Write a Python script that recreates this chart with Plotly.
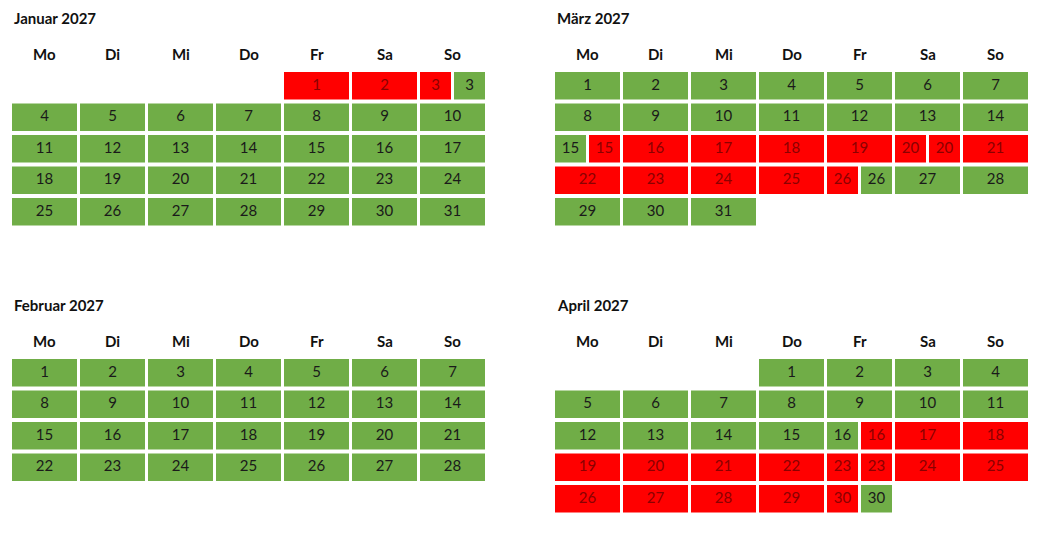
import calendar
import plotly.graph_objects as go

YEAR = 2027
month_numbers = [1, 2, 3, 4]
month_titles = ["Januar 2027", "Februar 2027", "März 2027", "April 2027"]
weekday_labels = ["Mo", "Di", "Mi", "Do", "Fr", "Sa", "So"]

# fully red days per month
red_jan = [1, 2]
red_feb = []
red_mar = [16, 17, 18, 19, 21, 22, 23, 24, 25]
red_apr = [17, 18, 19, 20, 21, 22, 24, 25, 26, 27, 28, 29]

# split days: (day, left half status, right half status)
half_jan = [(3, "r", "g")]
half_feb = []
half_mar = [(15, "g", "r"), (20, "r", "r"), (26, "r", "g")]
half_apr = [(16, "g", "r"), (23, "r", "r"), (30, "r", "g")]

red_lists = [red_jan, red_feb, red_mar, red_apr]
half_lists = [half_jan, half_feb, half_mar, half_apr]

GREEN = "#70AD47"
RED = "#FF0000"
TXT = {"g": "#1a1a1a", "r": "#8B0000"}
FILL = {"g": GREEN, "r": RED}
FONT = "Lato"

W, H = 1040, 535
OFF = 8.0  # page body margin
PITCH_X = 68.0
PITCH_Y = 31.5
NROWS = 5
CELL_W = 65.0 / PITCH_X
CELL_H = 27.5 / PITCH_Y
GAP = 3.0 / PITCH_X
HALF_W = (CELL_W - GAP) / 2

# panel placement (pixels in the page): left edge of x range, top edge of y range
panels = {1: (10.5, 70.0), 3: (553.5, 70.0), 2: (10.5, 357.0), 4: (553.5, 357.0)}


def row_to_domain(r):
    # y range is [NROWS-0.5 (bottom), -0.5 (top)]
    return 1 - (r + 0.5) / NROWS


fig = go.Figure()
annotations = []
layout_axes = {}

for k, (m, title, reds, halves) in enumerate(zip(month_numbers, month_titles, red_lists, half_lists)):
    idx = k + 1
    xa = "x" if idx == 1 else f"x{idx}"
    ya = "y" if idx == 1 else f"y{idx}"
    left_px, top_px = panels[m]
    left_px -= OFF
    top_px -= OFF
    x0 = left_px / W
    x1 = (left_px + 7 * PITCH_X) / W
    y1 = 1 - top_px / H
    y0 = 1 - (top_px + NROWS * PITCH_Y) / H
    layout_axes["xaxis" if idx == 1 else f"xaxis{idx}"] = dict(
        domain=[x0, x1], range=[-0.5, 6.5], visible=False, fixedrange=True,
        anchor=ya)
    layout_axes["yaxis" if idx == 1 else f"yaxis{idx}"] = dict(
        domain=[y0, y1], range=[NROWS - 0.5, -0.5], visible=False, fixedrange=True,
        anchor=xa)

    first_wd, ndays = calendar.monthrange(YEAR, m)
    half_map = {d: (a, b) for d, a, b in halves}

    bars = {"g": dict(y=[], base=[], x=[]), "r": dict(y=[], base=[], x=[])}
    texts = {"g": dict(x=[], y=[], t=[]), "r": dict(x=[], y=[], t=[])}
    for d in range(1, ndays + 1):
        pos = first_wd + d - 1
        col = pos % 7
        row = pos // 7
        if d in half_map:
            for j, st in enumerate(half_map[d]):
                b = col - CELL_W / 2 + j * (HALF_W + GAP)
                bars[st]["y"].append(row)
                bars[st]["base"].append(b)
                bars[st]["x"].append(HALF_W)
                texts[st]["x"].append(b + HALF_W / 2)
                texts[st]["y"].append(row)
                texts[st]["t"].append(str(d))
        else:
            st = "r" if d in reds else "g"
            bars[st]["y"].append(row)
            bars[st]["base"].append(col - CELL_W / 2)
            bars[st]["x"].append(CELL_W)
            texts[st]["x"].append(col)
            texts[st]["y"].append(row)
            texts[st]["t"].append(str(d))

    for st in ("g", "r"):
        if bars[st]["y"]:
            fig.add_trace(go.Bar(
                orientation="h", y=bars[st]["y"], x=bars[st]["x"], base=bars[st]["base"],
                width=CELL_H, marker=dict(color=FILL[st], line=dict(width=0)),
                xaxis=xa, yaxis=ya, hoverinfo="skip", showlegend=False))
    for st in ("g", "r"):
        if texts[st]["x"]:
            fig.add_trace(go.Scatter(
                x=texts[st]["x"], y=texts[st]["y"], text=texts[st]["t"], mode="text",
                textfont=dict(family=FONT, size=15, color=TXT[st]),
                xaxis=xa, yaxis=ya, hoverinfo="skip", showlegend=False))

    for c, lab in enumerate(weekday_labels):
        annotations.append(dict(
            x=c, y=row_to_domain(-1.0), xref=xa, yref=f"{ya} domain", text=f"<b>{lab}</b>",
            showarrow=False, font=dict(family=FONT, size=15, color="#111111"),
            xanchor="center", yanchor="middle"))
    annotations.append(dict(
        x=-0.5 + GAP / 2, y=row_to_domain(-2.15), xref=xa, yref=f"{ya} domain",
        text=f"<b>{title}</b>", showarrow=False,
        font=dict(family=FONT, size=15, color="#111111"), xanchor="left", yanchor="middle"))

fig.update_layout(
    width=W, height=H, margin=dict(l=0, r=0, t=0, b=0),
    paper_bgcolor="white", plot_bgcolor="white",
    barmode="overlay", annotations=annotations, **layout_axes)

fig.write_html("out.html", config={"displayModeBar": False})
